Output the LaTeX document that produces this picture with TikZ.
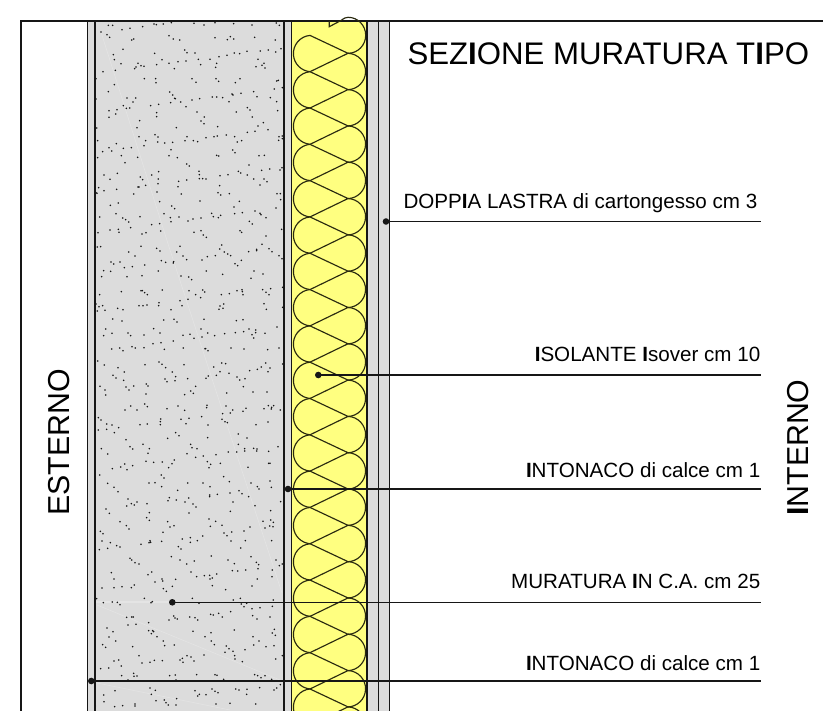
\documentclass[tikz,border=0pt]{standalone}
\usepackage{fontspec}
\setmainfont{Liberation Sans}
\newcommand{\thickI}{\textbf{I}}
\tikzset{
  wallgrey/.style={fill=wall,draw=none},
  layerline/.style={draw=ink,line width=#1},
  batt/.style={draw=battink,line width=1.15pt},
  leader/.style={draw=ink,line width=1.5pt},
  leaderdot/.style={circle,fill=ink,draw=none,inner sep=0pt,minimum size=6.6pt},
  lbl/.style={anchor=base east,inner sep=0pt,font=\fontsize{20.6}{24}\selectfont,text=black},
  titletxt/.style={inner sep=0pt,font=\fontsize{31.2}{35}\selectfont,text=black},
  bigtxt/.style={inner sep=0pt,font=\fontsize{30.3}{34}\selectfont,text=black},
  streak/.style={draw=wallpale,line width=0.6pt}
}
\definecolor{ink}{HTML}{161616}
\definecolor{battink}{HTML}{2A2A10}
\definecolor{wall}{HTML}{DCDCDC}
\definecolor{wallpale}{HTML}{E4E4E4}
\definecolor{battfill}{HTML}{FFFF80}
\begin{document}
\begin{tikzpicture}[x=1pt,y=1pt]
\useasboundingbox (0,0) rectangle (823,-711);
\fill[white] (0,0) rectangle (823,-711);
% layers
\fill[wallgrey] (87.5,-21) rectangle (291.7,-711);
\fill[battfill] (291.7,-21) rectangle (367,-711);
\fill[wallgrey] (367,-21) rectangle (389.5,-711);
% faint streaks
\draw[streak] (101,-32) -- (170,-250) -- (245,-480) -- (282,-593);
\draw[streak] (97,-605) -- (280,-680);
\draw[streak] (97,-683) -- (230,-710);
\draw[draw=wallpale,line width=1.2pt] (96,-602) -- (170,-602);
% concrete aggregate
\begin{scope}
\clip (94,-21) rectangle (285,-711);
\fill[ink] \foreach \x/\y in {85/16,98/16,126/29,150/25,188/20,222/12,229/14,250/12,274/8,342/10,372/15,405/8,461/11,516/15,589/9,598/16,63/36,81/44,89/52,155/60,161/57,267/47,280/57,299/60,405/53,442/59,451/50,461/57,524/52,586/60,129/88,100/104,103/119,123/131,224/100,314/90,321/98,345/99,355/118,362/134,246/119,230/134,267/130,294/125,318/123,283/146,390/118,417/110,441/106,463/99,479/101,501/94,541/93,565/90,587/96,603/86,534/118,552/130,546/136,555/144,528/140,410/130,407/142,174/130,168/141,164/146,183/137,192/139,106/151,69/155,48/176,193/176,227/176,228/188,336/176,348/187,408/176,416/184,466/188,480/176,590/183,595/181,103/194,583/207,607/203,85/215,269/216,278/225,284/235,286/236,302/246,336/240,359/236,397/231,410/231,428/233,456/222,459/225,483/220,521/215,531/230,571/233,447/245,590/245,48/237,141/234,167/234,159/246,272/248,236/253,212/257,130/257,139/265,149/264,111/269,87/272,107/282,87/292,318/260,230/278,230/290,351/276,469/276,502/263,510/270,593/272,517/291,373/291,363/303,372/311,179/302,550/308,534/318,171/323,289/323,413/320,564/329,50/324,525/334,502/337,225/344,234/351,177/350,321/350,378/353,402/350,412/348,439/345,464/350,597/350,607/348,607/356,596/361,53/362,197/362,233/366,254/369,278/367,315/362,340/362,353/365,472/366,485/362,109/371,192/377,68/395,87/383,95/393,130/385,154/383,273/389,458/390,465/398,124/407,53/413,173/412,267/407,292/413,410/406,416/408,537/407,553/406,135/428,320/432,328/438,507/435,606/443,600/450,569/447,545/451,357/454,236/455,358/464,475/454,482/459,502/465,444/464,420/467,112/460,72/465,215/465,181/471,188/479,235/477,90/478,358/476,368/476,378/477,320/480,296/484,234/491,197/496,174/501,177/501,294/500,521/477,552/477,561/485,540/495,419/497,56/503,72/512,110/508,48/518,51/520,231/516,161/522,304/522,414/518,422/525,448/521,591/521,601/521,602/539,239/545,360/543,115/549,91/556,478/544,462/561,588/564,275/558,284/566,525/573,540/580,543/584,464/581,487/578,395/580,422/586,400/590,415/593,108/581,252/581,59/591,128/594,137/599,146/606,180/590,271/593,273/605,297/591,324/603,339/597,363/594,558/593,508/604,517/612,215/614,239/611,152/623,90/630,115/628,117/637,54/638,186/642,198/638,242/633,342/637,363/632,370/645,379/652,480/632,485/637,605/628,558/648,62/680,52/681,183/679,230/685,300/679,425/675,419/687,546/673,567/686,530/688}{ ({80+\x/3},{-20-\y/3}) circle (0.85pt) };
\fill[ink] \foreach \x/\y in {146/6,165/18,240/3,290/6,309/18,320/29,382/20,406/17,433/6,443/12,452/17,506/5,530/2,576/5,597/17,606/26,484/31,366/30,244/32,257/37,281/35,280/39,93/36,101/42,120/36,133/53,157/50,194/45,465/41,473/47,71/62,92/64,65/80,141/80,186/77,235/63,379/63,428/73,522/63,549/72,513/85,303/78,326/81,335/89,59/134,124/125,183/122,187/122,194/128,202/134,247/120,327/122,368/120,374/126,347/134,362/143,424/134,448/131,471/122,486/119,487/125,489/134,548/119,558/127,572/116,567/134,608/112,300/152,324/148,48/162,57/170,68/167,52/183,75/181,113/175,129/179,177/167,189/167,201/165,237/158,236/167,273/179,306/167,431/162,420/168,429/175,417/178,552/161,559/178,608/172,98/207,126/213,251/210,282/208,291/216,372/208,469/212,489/209,591/231,77/237,221/236,363/237,507/237,527/240,527/248,71/257,96/250,144/249,152/257,192/255,240/249,309/256,330/253,342/265,366/261,383/249,404/257,434/251,466/248,491/245,516/254,521/264,555/250,280/273,243/278,219/281,95/297,119/294,129/302,156/290,166/294,192/293,253/298,310/294,375/296,377/296,384/302,453/294,492/297,563/299,597/294,53/333,73/345,195/344,237/336,246/343,257/353,312/344,425/339,437/341,401/351,557/339,544/351,532/358,570/354,564/365,509/362,608/342,114/353,133/366,277/366,420/365,447/370,409/376,385/378,378/385,287/380,255/387,261/395,285/392,323/386,471/381,479/390,495/386,99/376,108/384,131/391,199/402,204/408,60/409,138/411,147/420,161/408,75/420,490/410,77/435,347/409,332/423,340/430,314/434,198/432,440/429,519/426,561/426,152/468,194/462,202/470,135/480,171/480,261/476,294/468,314/481,381/466,380/473,438/468,458/480,451/489,428/491,498/475,489/484,565/467,581/467,575/472,574/477,552/476,601/480,55/503,63/510,365/500,327/505,303/508,242/507,241/515,241/524,202/522,180/524,318/521,426/508,435/515,442/518,384/525,528/524,564/516,80/522,96/525,80/538,55/540,116/533,103/548,287/548,297/557,263/565,383/563,475/552,501/564,138/569,332/583,336/593,351/596,475/583,189/583,150/590,158/597,208/596,64/596,83/612,204/610,321/611,347/622,370/618,408/614,445/606,470/606,494/596,494/603,521/595,531/597,530/603,566/604,594/590,198/634,221/637,247/636,283/630,276/641,266/653,382/635,392/643,387/653,421/640,504/652,566/640,570/640,134/642,158/647,122/651,141/659,97/656,59/675,244/675,252/684,431/680}{ ({80+\x/3},{-250-\y/3}) circle (0.85pt) };
\fill[ink] \foreach \x/\y in {83/10,102/22,114/35,207/9,225/8,245/20,293/31,323/9,369/9,390/20,448/5,513/9,570/3,532/20,537/27,574/22,477/32,486/41,450/39,389/45,389/50,412/43,506/50,459/66,602/65,144/57,268/53,264/62,289/60,315/66,326/54,339/72,348/81,154/71,163/75,171/66,140/78,201/71,525/77,78/87,88/100,208/98,327/99,451/94,572/92,200/113,208/121,120/125,263/125,270/141,282/137,387/117,391/139,407/124,426/136,139/137,147/147,549/124,572/120,580/127,569/138,579/140,555/144,510/141,492/153,61/154,69/161,249/157,432/159,441/167,455/156,368/168,331/173,307/177,66/183,91/188,110/197,120/201,58/209,83/205,183/193,207/188,210/182,212/187,245/184,331/187,352/182,453/183,496/182,575/182,295/200,303/207,482/204,274/230,394/228,513/230,150/235,155/240,165/248,177/252,300/240,320/252,343/243,444/240,463/251,529/247,536/254,534/266,588/240,598/257,607/252,457/272,473/273,497/270,577/270,94/278,204/284,215/276,333/276,350/290,373/287,389/286,397/294,390/297,410/282,576/290,532/297,246/297,248/303,225/306,287/298,102/297,397/317,516/318,163/315,154/323,126/320,102/323,66/324,277/319,250/326,259/334,437/329,50/356,70/368,97/366,112/367,120/374,193/355,217/365,213/368,337/355,357/370,460/360,481/355,484/372,500/370,580/360,492/380,516/386,540/383,577/379,452/395,392/403,400/405,416/400,427/411,518/407,531/417,570/411,140/412,155/411,160/411,281/408,285/414,292/417,267/420,329/411,345/413,353/420,206/428,168/433,144/435,81/444,99/455,87/471,107/483,206/452,218/452,214/461,221/455,231/470,339/454,463/450,583/448,577/459,586/466,393/458,375/470,519/470,394/483,403/494,537/483,521/495,250/483,254/497,283/495,158/500,68/494,77/502,439/498,447/506,459/514,435/517,495/509,558/500,582/497,177/527,321/527,333/531,372/525,464/527,465/537,307/535,300/540,309/547,342/543,607/527,587/537,487/545,102/543,116/540,124/558,186/549,210/547,223/541,247/542,86/564,62/566,125/587,161/580,162/589,171/588,269/587,286/585,350/584,405/584,411/586,524/584,533/587,543/593,555/587,144/600,288/600,431/598,575/598,601/614,590/624,582/630,71/645,105/632,210/624,226/631,214/643,345/632,358/643,353/648,378/644,396/627,405/634,414/638,467/627,477/630,501/628,500/643,539/623,72/665,228/662,253/660,258/668,265/675,290/656,288/675,165/672,165/678,128/677,104/680,408/672,450/670,527/672,46/678}{ ({80+\x/3},{-480-\y/3}) circle (0.85pt) };
\end{scope}
% layer boundaries
\draw[layerline=1.4pt] (21,-711) -- (21,-21) -- (823,-21);
\draw[layerline=1pt] (87.5,-21) -- (87.5,-711);
\draw[layerline=1.6pt] (95,-21) -- (95,-711);
\draw[layerline=1.6pt] (284,-21) -- (284,-711);
\draw[layerline=1.1pt] (291.7,-21) -- (291.7,-711);
\draw[layerline=1.1pt] (367,-21) -- (367,-711);
\draw[layerline=1.1pt] (378.2,-21) -- (378.2,-711);
\draw[layerline=1.1pt] (389.4,-21) -- (389.4,-711);
% insulation
\begin{scope}
\clip (285,0) rectangle (372,-711);
\foreach \k in {0,...,18}{
  \pgfmathsetmacro{\La}{-35.4-36.31*\k}
  \pgfmathsetmacro{\Lb}{-35.4-36.31*(\k+1)}
  \pgfmathsetmacro{\Ra}{-53.3-36.31*\k}
  \draw[batt] (310,\La) arc[start angle=95,end angle=265,radius=18.2pt];
  \draw[batt] (348,\Ra) arc[start angle=88,end angle=-88,radius=18.2pt];
  \draw[batt] (310,\La) -- (348,\Ra) -- (310,\Lb);
}
\draw[batt] (329.3,-21) -- (329.3,-26.7) -- (341,-20.5)
  .. controls (344,-18.2) and (346,-17.3) .. (348,-17.3)
  .. controls (358,-17.3) and (365.7,-25.5) .. (365.7,-35.3)
  .. controls (365.7,-45) and (358,-53.3) .. (348,-53.3);
\end{scope}
% labels
\node[titletxt,anchor=base west] (title) at (407.3,-65) {SEZ\thickI ONE MURATURA T\thickI PO};
\node[lbl] (l1) at (757.5,-209) {DOPP\thickI A LASTRA di cartongesso cm 3};
\node[lbl] (l2) at (760.5,-362) {\thickI SOLANTE \thickI sover cm 10};
\node[lbl] (l3) at (760.5,-478) {\thickI NTONACO di calce cm 1};
\node[lbl] (l4) at (760.5,-588.5) {MURATURA \thickI N C.A. cm 25};
\node[lbl] (l5) at (760.5,-670) {\thickI NTONACO di calce cm 1};
\node[bigtxt,anchor=base west,rotate=90] (est) at (69,-516) {ESTERNO};
\node[bigtxt,anchor=base west,rotate=90] (int) at (808,-516) {\thickI NTERNO};
% leaders
\node[leaderdot] (d1) at (386,-221.5) {};
\node[leaderdot] (d2) at (318.3,-375) {};
\node[leaderdot] (d3) at (288,-489) {};
\node[leaderdot] (d4) at (172.3,-602.3) {};
\node[leaderdot] (d5) at (91.3,-681) {};
\coordinate (e1) at (761,-221.5);
\coordinate (e2) at (761,-375);
\coordinate (e3) at (761,-489);
\coordinate (e4) at (761,-602.3);
\coordinate (e5) at (761,-681);
\foreach \i in {1,...,5}{ \draw[leader] (d\i.center) -- (e\i); }
\end{tikzpicture}
\end{document}
